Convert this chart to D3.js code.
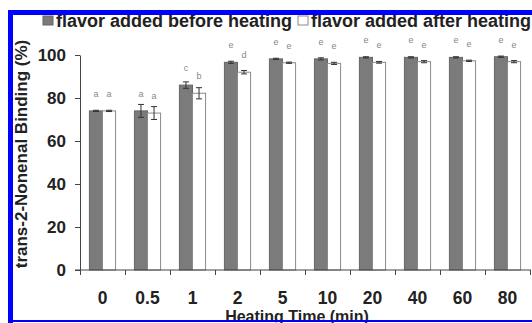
<!DOCTYPE html>
<html>
<head>
<meta charset="utf-8">
<script src="https://cdn.jsdelivr.net/npm/d3@7"></script>
<style>
  body { margin: 0; background: #fff; }
  svg { display: block; font-family: "Liberation Sans", Arial, sans-serif; }
</style>
</head>
<body>
<div id="chart"></div>
<script>
// heating time categories (min)
const categories = ['0', '0.5', '1', '2', '5', '10', '20', '40', '60', '80'];
// binding (%) – flavor added before heating
const beforeValues = [74, 74, 86, 96.6, 98.2, 98.2, 98.9, 98.9, 98.9, 99.2];
const beforeErrors = [0.3, 3, 1.5, 0.5, 0.3, 0.5, 0.3, 0.3, 0.3, 0.3];
const beforeLetters = ['a', 'a', 'c', 'e', 'e', 'e', 'e', 'e', 'e', 'e'];
// binding (%) – flavor added after heating
const afterValues = [74, 73, 82.2, 92, 96.4, 96.1, 96.6, 96.9, 97.3, 96.9];
const afterErrors = [0.3, 3, 2.6, 0.8, 0.3, 0.5, 0.4, 0.5, 0.3, 0.5];
const afterLetters = ['a', 'a', 'b', 'd', 'e', 'e', 'e', 'e', 'e', 'e'];
const yTicks = [0, 20, 40, 60, 80, 100];
const seriesNames = ['flavor added before heating', 'flavor added after heating'];

const width = 532, height = 323;
const plotLeft = 80, plotRight = 530, plotTop = 55, plotBottom = 270;

const svg = d3.select('#chart').append('svg')
  .attr('width', width)
  .attr('height', height);

const x = d3.scaleBand()
  .domain(categories)
  .range([plotLeft, plotRight])
  .padding(0);

const x1 = d3.scaleBand()
  .domain(['before', 'after'])
  .range([0, x.bandwidth()])
  .paddingInner(0)
  .paddingOuter(0.72);

const y = d3.scaleLinear()
  .domain([0, 100])
  .range([plotBottom, plotTop]);

// boundary ticks on the x axis
const xEdge = d3.scaleLinear().domain([0, categories.length]).range([plotLeft, plotRight]);

const rows = categories.map((c, i) => [
  { cat: c, key: 'before', v: beforeValues[i], e: beforeErrors[i], l: beforeLetters[i] },
  { cat: c, key: 'after', v: afterValues[i], e: afterErrors[i], l: afterLetters[i] }
]).flat();

// bars
svg.selectAll('.bar')
  .data(rows)
  .enter().append('rect')
  .attr('class', 'bar')
  .attr('x', d => x(d.cat) + x1(d.key))
  .attr('width', x1.bandwidth())
  .attr('y', d => y(d.v))
  .attr('height', d => y(0) - y(d.v))
  .attr('fill', d => d.key === 'before' ? '#7b7b7b' : '#fff')
  .attr('stroke', d => d.key === 'before' ? '#666' : '#8a8a8a')
  .attr('stroke-width', 1);

// error bars
const eb = svg.selectAll('.err')
  .data(rows)
  .enter().append('g')
  .attr('class', 'err')
  .attr('stroke', '#333')
  .attr('stroke-width', 1);
const cx = d => x(d.cat) + x1(d.key) + x1.bandwidth() / 2;
eb.append('line')
  .attr('x1', cx).attr('x2', cx)
  .attr('y1', d => y(d.v + d.e)).attr('y2', d => y(d.v - d.e));
eb.append('line')
  .attr('x1', d => cx(d) - 3).attr('x2', d => cx(d) + 3)
  .attr('y1', d => y(d.v + d.e)).attr('y2', d => y(d.v + d.e));
eb.append('line')
  .attr('x1', d => cx(d) - 3).attr('x2', d => cx(d) + 3)
  .attr('y1', d => y(d.v - d.e)).attr('y2', d => y(d.v - d.e));

// significance letters
svg.selectAll('.letter')
  .data(rows)
  .enter().append('text')
  .attr('class', 'letter')
  .attr('x', cx)
  .attr('y', d => y(d.v) - 14)
  .attr('text-anchor', 'middle')
  .attr('font-size', 9)
  .attr('fill', '#888')
  .text(d => d.l);

// y axis
const yAxis = svg.append('g')
  .attr('transform', 'translate(' + plotLeft + ',0)')
  .call(d3.axisLeft(y).tickValues(yTicks).tickSize(5).tickPadding(9).tickSizeOuter(0));
yAxis.selectAll('text')
  .attr('font-size', 17).attr('font-weight', 'bold').attr('fill', '#222');

// x axis: boundary ticks
const xTickAxis = svg.append('g')
  .attr('transform', 'translate(0,' + plotBottom + ')')
  .call(d3.axisBottom(xEdge).ticks(categories.length).tickSize(5).tickFormat('').tickSizeOuter(0));
xTickAxis.select('.domain').attr('d', 'M' + (plotLeft - 5) + ',0H' + (plotRight + 1));

// x axis: labels at category centres
const xAxis = svg.append('g')
  .attr('transform', 'translate(0,' + plotBottom + ')')
  .call(d3.axisBottom(x).tickSize(0).tickPadding(22));
xAxis.select('.domain').remove();
xAxis.selectAll('text')
  .attr('font-size', 17.5).attr('font-weight', 'bold').attr('fill', '#222');

svg.selectAll('.domain, .tick line').attr('stroke', '#444');

// axis titles
svg.append('text')
  .attr('x', 297)
  .attr('y', 322)
  .attr('text-anchor', 'middle')
  .attr('font-size', 16)
  .attr('font-weight', 'bold')
  .attr('fill', '#222')
  .text('Heating Time (min)');

svg.append('text')
  .attr('transform', 'translate(27,154) rotate(-90)')
  .attr('text-anchor', 'middle')
  .attr('font-size', 17)
  .attr('font-weight', 'bold')
  .attr('fill', '#222')
  .text('trans-2-Nonenal Binding (%)');

// legend
const legend = svg.append('g');
const legendX = [43, 298];
legend.selectAll('rect')
  .data(seriesNames)
  .enter().append('rect')
  .attr('x', (d, i) => legendX[i])
  .attr('y', 16)
  .attr('width', 10)
  .attr('height', 9)
  .attr('fill', (d, i) => i === 0 ? '#7b7b7b' : '#fff')
  .attr('stroke', (d, i) => i === 0 ? '#666' : '#8a8a8a');
legend.selectAll('text')
  .data(seriesNames)
  .enter().append('text')
  .attr('x', (d, i) => legendX[i] + 13)
  .attr('y', 27)
  .attr('font-size', 18)
  .attr('font-weight', 'bold')
  .attr('fill', '#222')
  .text(d => d);

// blue frame
svg.append('rect').attr('x', 8).attr('y', 10).attr('width', 5).attr('height', 313).attr('fill', '#0000ff');
svg.append('rect').attr('x', 8).attr('y', 10).attr('width', 524).attr('height', 5).attr('fill', '#0000ff');
svg.append('rect').attr('x', 8).attr('y', 320).attr('width', 524).attr('height', 2).attr('fill', '#0000ff');
</script>
</body>
</html>
